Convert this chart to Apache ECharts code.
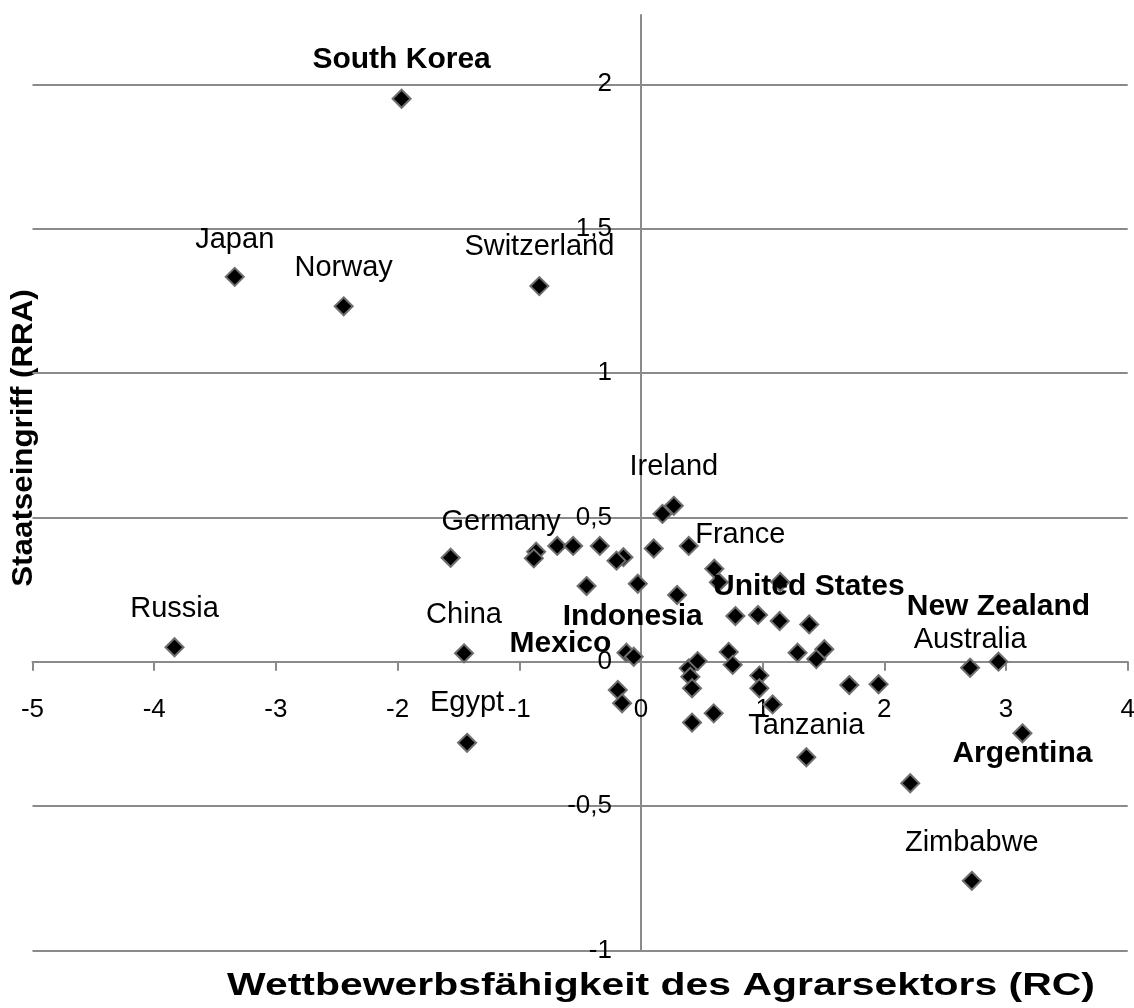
<!DOCTYPE html>
<html>
<head>
<meta charset="utf-8">
<script src="https://cdn.jsdelivr.net/npm/echarts@6/dist/echarts.min.js"></script>
<style>
html,body{margin:0;padding:0;background:#fff;}
#chart{width:1134px;height:1008px;}
</style>
</head>
<body>
<div id="chart"></div>
<script>
// ---- data ----
const countryLabels = [
  'South Korea','Japan','Norway','Switzerland','Russia','China','Egypt','Ireland','',
  '','Germany','','','','','','','','','','','','France','United States','',
  '','','','','','','','','','','','','','','','Australia','New Zealand','Argentina',
  'Tanzania','','Zimbabwe','Mexico','Indonesia','','','','','','',''
];
const rcValues = [
  -1.967,-3.338,-2.443,-0.835,-3.833,-1.454,-1.429,0.270,0.177,
  -1.564,-0.861,-0.880,-0.688,-0.557,-0.338,-0.144,-0.201,0.105,0.393,-0.447,-0.026,0.297,0.603,0.640,1.145,
  0.776,0.962,1.140,1.383,0.721,0.754,1.287,1.507,1.441,0.973,0.973,1.082,0.598,1.712,1.953,2.705,2.938,3.135,
  1.359,2.213,2.719,-0.119,-0.059,-0.190,-0.155,0.393,0.466,0.406,0.420,0.420
];
const rraValues = [
  1.950,1.333,1.231,1.301,0.050,0.029,-0.281,0.540,0.512,
  0.360,0.381,0.358,0.401,0.401,0.401,0.362,0.350,0.392,0.401,0.262,0.270,0.231,0.322,0.275,0.276,
  0.158,0.162,0.141,0.129,0.034,-0.011,0.031,0.043,0.009,-0.048,-0.092,-0.148,-0.179,-0.081,-0.078,-0.021,0.000,-0.248,
  -0.331,-0.421,-0.759,0.031,0.017,-0.098,-0.144,-0.023,0.002,-0.052,-0.092,-0.211
];
const xTicks = [-5,-4,-3,-2,-1,0,1,2,3,4];
const yTicks = [-1,-0.5,0,0.5,1,1.5,2];
const yTop = 2.24;
const boldCountries = ['South Korea','United States','New Zealand','Argentina','Indonesia','Mexico'];
const xTitle = 'Wettbewerbsfähigkeit des Agrarsektors (RC)';
const yTitle = 'Staatseingriff (RRA)';

// ---- label placement (style, not data) ----
const labelOffset = {
  'South Korea':[0,-39],'Japan':[0,-37],'Norway':[0,-38],'Switzerland':[0,-39],
  'Russia':[0,-38],'China':[0,-38],'Egypt':[0,-40],'Ireland':[0,-39],
  'Germany':[-35,-30],'France':[26,-34],'United States':[90,4],
  'Australia':[0,-28],'New Zealand':[0,-55],'Argentina':[0,20],
  'Tanzania':[0,-31],'Zimbabwe':[0,-38],'Mexico':[-66,-9],'Indonesia':[-1,-40]
};

const FONT = '"Liberation Sans", Arial, sans-serif';
const GRID_COLOR = '#8a8a8a';
const W = 1134, H = 1008;
const G = { left: 32.5, right: 6.3, top: 15, bottom: 57.6 };
const gw = W - G.left - G.right, gh = H - G.top - G.bottom;
const xMin = xTicks[0], xMax = xTicks[xTicks.length - 1], yMin = yTicks[0];
// move the axes onto the zero lines
const yAxisOffset = -gw * (0 - xMin) / (xMax - xMin);
const xAxisOffset = -gh * (0 - yMin) / (yTop - yMin);

const seriesData = rcValues.map((x, i) => {
  const name = countryLabels[i];
  const item = { value: [x, rraValues[i]], name: name };
  if (name) {
    const bold = boldCountries.includes(name);
    item.label = {
      show: true,
      formatter: name,
      position: 'inside',
      offset: labelOffset[name] || [0,-38],
      color: '#000',
      fontFamily: FONT,
      fontSize: bold ? 30 : 29,
      fontWeight: bold ? 'bold' : 'normal'
    };
  }
  return item;
});

const chart = echarts.init(document.getElementById('chart'), null, {renderer: 'canvas'});
chart.setOption({
  backgroundColor: '#fff',
  animation: false,
  grid: { left: G.left, right: G.right, top: G.top, bottom: G.bottom, containLabel: false, outerBoundsMode: 'none' },
  xAxis: {
    type: 'value', position: 'bottom', offset: xAxisOffset,
    min: xMin, max: xMax, interval: 1,
    axisLine: { onZero: false, lineStyle: { color: GRID_COLOR, width: 2 } },
    axisTick: { show: true, inside: false, length: 9, lineStyle: { color: GRID_COLOR, width: 2 } },
    axisLabel: { margin: 35, color: '#000', fontFamily: FONT, fontSize: 26 },
    splitLine: { show: false }
  },
  yAxis: {
    type: 'value', position: 'left', offset: yAxisOffset,
    min: yMin, max: yTop, interval: 0.5,
    axisLine: { onZero: false, lineStyle: { color: GRID_COLOR, width: 2 } },
    axisTick: { show: true, length: 8, customValues: yTicks, lineStyle: { color: GRID_COLOR, width: 2 } },
    axisLabel: {
      margin: 29, color: '#000', fontFamily: FONT, fontSize: 26,
      customValues: yTicks,
      formatter: v => {
        const r = Math.round(v * 2) / 2;
        if (Math.abs(r - v) > 1e-6) return '';
        return String(r).replace('.', ',');
      }
    },
    splitLine: { show: true, lineStyle: { color: GRID_COLOR, width: 2 } }
  },
  series: [{
    type: 'scatter',
    symbol: 'diamond',
    symbolSize: 18,
    itemStyle: { color: '#000', borderColor: '#6e6e6e', borderWidth: 2, opacity: 1 },
    label: { show: false },
    emphasis: { disabled: true },
    data: seriesData,
    z: 3
  }],
  graphic: [
    {
      type: 'text', x: 661, y: 986, scaleX: 1.32,
      style: { text: xTitle, font: 'bold 31px ' + FONT, fill: '#000', align: 'center', verticalAlign: 'middle' }
    },
    {
      type: 'text', x: 24, y: 438, rotation: Math.PI / 2, scaleX: 1.08,
      style: { text: yTitle, font: 'bold 29px ' + FONT, fill: '#000', align: 'center', verticalAlign: 'middle' }
    }
  ]
});
</script>
</body>
</html>
